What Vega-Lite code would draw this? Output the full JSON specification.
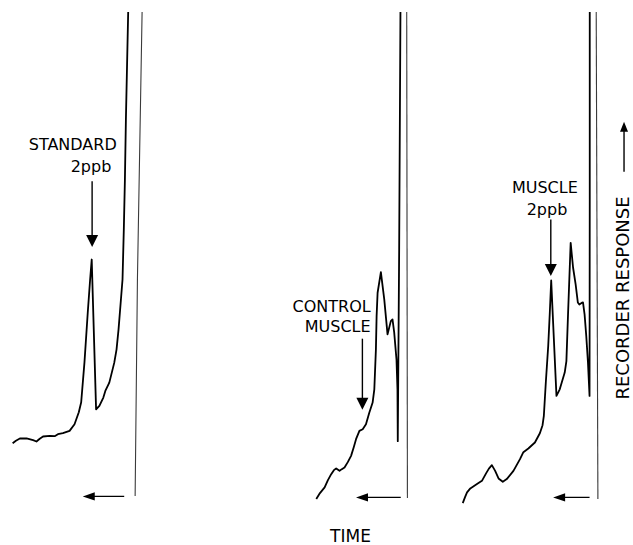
{
  "$schema": "https://vega.github.io/schema/vega-lite/v6.json",
  "width": 633,
  "height": 545,
  "padding": 0,
  "autosize": {"type": "fit", "contains": "padding"},
  "background": "white",
  "config": {"view": {"stroke": null}},
  "datasets": {
    "trace": [
      {"s":"p1","i":0,"x":12.7,"y":444},{"s":"p1","i":1,"x":16,"y":441.5},{"s":"p1","i":2,"x":20,"y":439.3},{"s":"p1","i":3,"x":26.7,"y":439.3},{"s":"p1","i":4,"x":33.3,"y":441},{"s":"p1","i":5,"x":36.7,"y":442.3},{"s":"p1","i":6,"x":40,"y":439.5},{"s":"p1","i":7,"x":43.3,"y":437.3},{"s":"p1","i":8,"x":50,"y":436.7},{"s":"p1","i":9,"x":55,"y":437},{"s":"p1","i":10,"x":58.3,"y":435},{"s":"p1","i":11,"x":63.3,"y":434},{"s":"p1","i":12,"x":70,"y":431.7},{"s":"p1","i":13,"x":75,"y":425},{"s":"p1","i":14,"x":79.3,"y":413},{"s":"p1","i":15,"x":81.7,"y":403},{"s":"p1","i":16,"x":85,"y":363},{"s":"p1","i":17,"x":88.3,"y":313.3},{"s":"p1","i":18,"x":90.7,"y":280},{"s":"p1","i":19,"x":92.3,"y":260},{"s":"p1","i":20,"x":96.7,"y":410},{"s":"p1","i":21,"x":100,"y":406.7},{"s":"p1","i":22,"x":104,"y":398.3},{"s":"p1","i":23,"x":106,"y":391.7},{"s":"p1","i":24,"x":110,"y":383.3},{"s":"p1","i":25,"x":115,"y":363.3},{"s":"p1","i":26,"x":117.3,"y":350},{"s":"p1","i":27,"x":119.3,"y":330},{"s":"p1","i":28,"x":121.7,"y":300},{"s":"p1","i":29,"x":123.3,"y":280},{"s":"p1","i":30,"x":124.6,"y":230},{"s":"p1","i":31,"x":125.7,"y":180},{"s":"p1","i":32,"x":126.7,"y":120},{"s":"p1","i":33,"x":129,"y":12},
      {"s":"p2","i":0,"x":318.3,"y":500},{"s":"p2","i":1,"x":322,"y":494},{"s":"p2","i":2,"x":326.7,"y":488.3},{"s":"p2","i":3,"x":330,"y":481},{"s":"p2","i":4,"x":333.3,"y":475},{"s":"p2","i":5,"x":336,"y":471},{"s":"p2","i":6,"x":338.3,"y":469.3},{"s":"p2","i":7,"x":341.7,"y":471.7},{"s":"p2","i":8,"x":344,"y":470},{"s":"p2","i":9,"x":346.7,"y":468.3},{"s":"p2","i":10,"x":350,"y":463},{"s":"p2","i":11,"x":353.3,"y":456.7},{"s":"p2","i":12,"x":356,"y":448},{"s":"p2","i":13,"x":358.3,"y":440},{"s":"p2","i":14,"x":361.7,"y":431.7},{"s":"p2","i":15,"x":365,"y":430},{"s":"p2","i":16,"x":368.3,"y":425},{"s":"p2","i":17,"x":371.7,"y":413.3},{"s":"p2","i":18,"x":375,"y":403.3},{"s":"p2","i":19,"x":376.7,"y":390},{"s":"p2","i":20,"x":378.3,"y":350},{"s":"p2","i":21,"x":379,"y":316.7},{"s":"p2","i":22,"x":380,"y":293.3},{"s":"p2","i":23,"x":383.3,"y":272.7},{"s":"p2","i":24,"x":386.7,"y":300},{"s":"p2","i":25,"x":390,"y":335},{"s":"p2","i":26,"x":393.3,"y":321.7},{"s":"p2","i":27,"x":395,"y":320},{"s":"p2","i":28,"x":396.7,"y":333},{"s":"p2","i":29,"x":399,"y":360},{"s":"p2","i":30,"x":400,"y":390},{"s":"p2","i":31,"x":400.3,"y":442},{"s":"p2","i":32,"x":401.7,"y":250},{"s":"p2","i":33,"x":403,"y":12},
      {"s":"p3","i":0,"x":465.7,"y":504},{"s":"p3","i":1,"x":468,"y":498},{"s":"p3","i":2,"x":470,"y":493.3},{"s":"p3","i":3,"x":473.3,"y":489.3},{"s":"p3","i":4,"x":480,"y":485},{"s":"p3","i":5,"x":485,"y":481.7},{"s":"p3","i":6,"x":489.3,"y":474},{"s":"p3","i":7,"x":492,"y":469.5},{"s":"p3","i":8,"x":495,"y":466},{"s":"p3","i":9,"x":498.3,"y":471.7},{"s":"p3","i":10,"x":501.7,"y":479.3},{"s":"p3","i":11,"x":506,"y":482.7},{"s":"p3","i":12,"x":510,"y":480},{"s":"p3","i":13,"x":516.7,"y":471.7},{"s":"p3","i":14,"x":523.3,"y":460},{"s":"p3","i":15,"x":526.7,"y":453},{"s":"p3","i":16,"x":531.7,"y":449.3},{"s":"p3","i":17,"x":538.3,"y":443.3},{"s":"p3","i":18,"x":543.3,"y":434},{"s":"p3","i":19,"x":546,"y":426},{"s":"p3","i":20,"x":547.3,"y":416.7},{"s":"p3","i":21,"x":549.3,"y":383},{"s":"p3","i":22,"x":551.7,"y":346.7},{"s":"p3","i":23,"x":553.3,"y":313.3},{"s":"p3","i":24,"x":554.7,"y":281},{"s":"p3","i":25,"x":560,"y":396.7},{"s":"p3","i":26,"x":563.3,"y":390},{"s":"p3","i":27,"x":568.3,"y":373.3},{"s":"p3","i":28,"x":570,"y":361.7},{"s":"p3","i":29,"x":571.7,"y":313.3},{"s":"p3","i":30,"x":574.3,"y":243.3},{"s":"p3","i":31,"x":576.7,"y":268},{"s":"p3","i":32,"x":579.3,"y":285},{"s":"p3","i":33,"x":581.5,"y":303},{"s":"p3","i":34,"x":583,"y":305},{"s":"p3","i":35,"x":585.3,"y":303.5},{"s":"p3","i":36,"x":586.7,"y":303},{"s":"p3","i":37,"x":588.3,"y":315},{"s":"p3","i":38,"x":590,"y":336.7},{"s":"p3","i":39,"x":591.7,"y":363},{"s":"p3","i":40,"x":593.3,"y":396.7},{"s":"p3","i":41,"x":593.5,"y":200},{"s":"p3","i":42,"x":593.5,"y":12}
    ],
    "ret": [
      {"s":"r1","i":0,"x":143,"y":12},{"s":"r1","i":1,"x":138.3,"y":280},{"s":"r1","i":2,"x":136,"y":497},
      {"s":"r2","i":0,"x":409.3,"y":12},{"s":"r2","i":1,"x":410,"y":499},
      {"s":"r3","i":0,"x":600,"y":12},{"s":"r3","i":1,"x":601.7,"y":500}
    ],
    "shafts": [
      {"x":92.7,"y":181.7,"x2":92.7,"y2":236},
      {"x":364.7,"y":339.3,"x2":364.7,"y2":399},
      {"x":554.3,"y":220,"x2":554.3,"y2":266},
      {"x":88,"y":497.3,"x2":125,"y2":497.3},
      {"x":363,"y":498.3,"x2":403.3,"y2":498.3},
      {"x":561,"y":498.3,"x2":593.3,"y2":498.3},
      {"x":628,"y":130,"x2":628,"y2":172}
    ],
    "headsDown": [
      {"x":92.7,"y":241.5},{"x":364.7,"y":404.5},{"x":554.3,"y":270.5}
    ],
    "headsLeft": [
      {"x":89.3,"y":497.3},{"x":364.3,"y":498.3},{"x":562.7,"y":498.3}
    ],
    "headsUp": [
      {"x":628,"y":127}
    ],
    "labelsRight": [
      {"x":117.5,"y":150,"t":"STANDARD"},
      {"x":112,"y":172,"t":"2ppb"},
      {"x":373,"y":313,"t":"CONTROL"},
      {"x":373,"y":333,"t":"MUSCLE"}
    ],
    "labelsCenter": [
      {"x":548.3,"y":193,"t":"MUSCLE"},
      {"x":550.5,"y":215,"t":"2ppb"}
    ],
    "labelsTime": [
      {"x":352.7,"y":543,"t":"TIME"}
    ],
    "labelsRot": [
      {"x":627.5,"y":298.5,"t":"RECORDER RESPONSE"}
    ]
  },
  "encoding": {
    "x": {"field": "x", "type": "quantitative", "axis": null, "scale": {"domain": [0, 633], "nice": false, "zero": false}},
    "y": {"field": "y", "type": "quantitative", "axis": null, "scale": {"domain": [0, 545], "nice": false, "zero": false, "reverse": true}}
  },
  "layer": [
    {
      "data": {"name": "ret"},
      "mark": {"type": "line", "color": "#3a3a3a", "strokeWidth": 1.1},
      "encoding": {"detail": {"field": "s"}, "order": {"field": "i", "type": "quantitative"}}
    },
    {
      "data": {"name": "trace"},
      "mark": {"type": "line", "color": "black", "strokeWidth": 1.8, "strokeJoin": "round"},
      "encoding": {"detail": {"field": "s"}, "order": {"field": "i", "type": "quantitative"}}
    },
    {
      "data": {"name": "shafts"},
      "mark": {"type": "rule", "color": "black", "strokeWidth": 1.4},
      "encoding": {"x2": {"field": "x2"}, "y2": {"field": "y2"}}
    },
    {
      "data": {"name": "headsDown"},
      "mark": {"type": "point", "shape": "M-1,-1L1,-1L0,1Z", "filled": true, "color": "black", "opacity": 1, "size": 144, "strokeWidth": 0}
    },
    {
      "data": {"name": "headsLeft"},
      "mark": {"type": "point", "shape": "M-1,0L1,-0.7L1,0.7Z", "filled": true, "color": "black", "opacity": 1, "size": 144, "strokeWidth": 0}
    },
    {
      "data": {"name": "headsUp"},
      "mark": {"type": "point", "shape": "M0,-1L-0.8,1L0.8,1Z", "filled": true, "color": "black", "opacity": 1, "size": 100, "strokeWidth": 0}
    },
    {
      "data": {"name": "labelsRight"},
      "mark": {"type": "text", "align": "right", "baseline": "alphabetic", "font": "DejaVu Sans", "fontSize": 16, "color": "black"},
      "encoding": {"text": {"field": "t"}}
    },
    {
      "data": {"name": "labelsCenter"},
      "mark": {"type": "text", "align": "center", "baseline": "alphabetic", "font": "DejaVu Sans", "fontSize": 16, "color": "black"},
      "encoding": {"text": {"field": "t"}}
    },
    {
      "data": {"name": "labelsTime"},
      "mark": {"type": "text", "align": "center", "baseline": "alphabetic", "font": "DejaVu Sans", "fontSize": 17, "color": "black"},
      "encoding": {"text": {"field": "t"}}
    },
    {
      "data": {"name": "labelsRot"},
      "mark": {"type": "text", "align": "center", "baseline": "middle", "angle": 270, "font": "DejaVu Sans", "fontSize": 18, "color": "black"},
      "encoding": {"text": {"field": "t"}}
    }
  ]
}
